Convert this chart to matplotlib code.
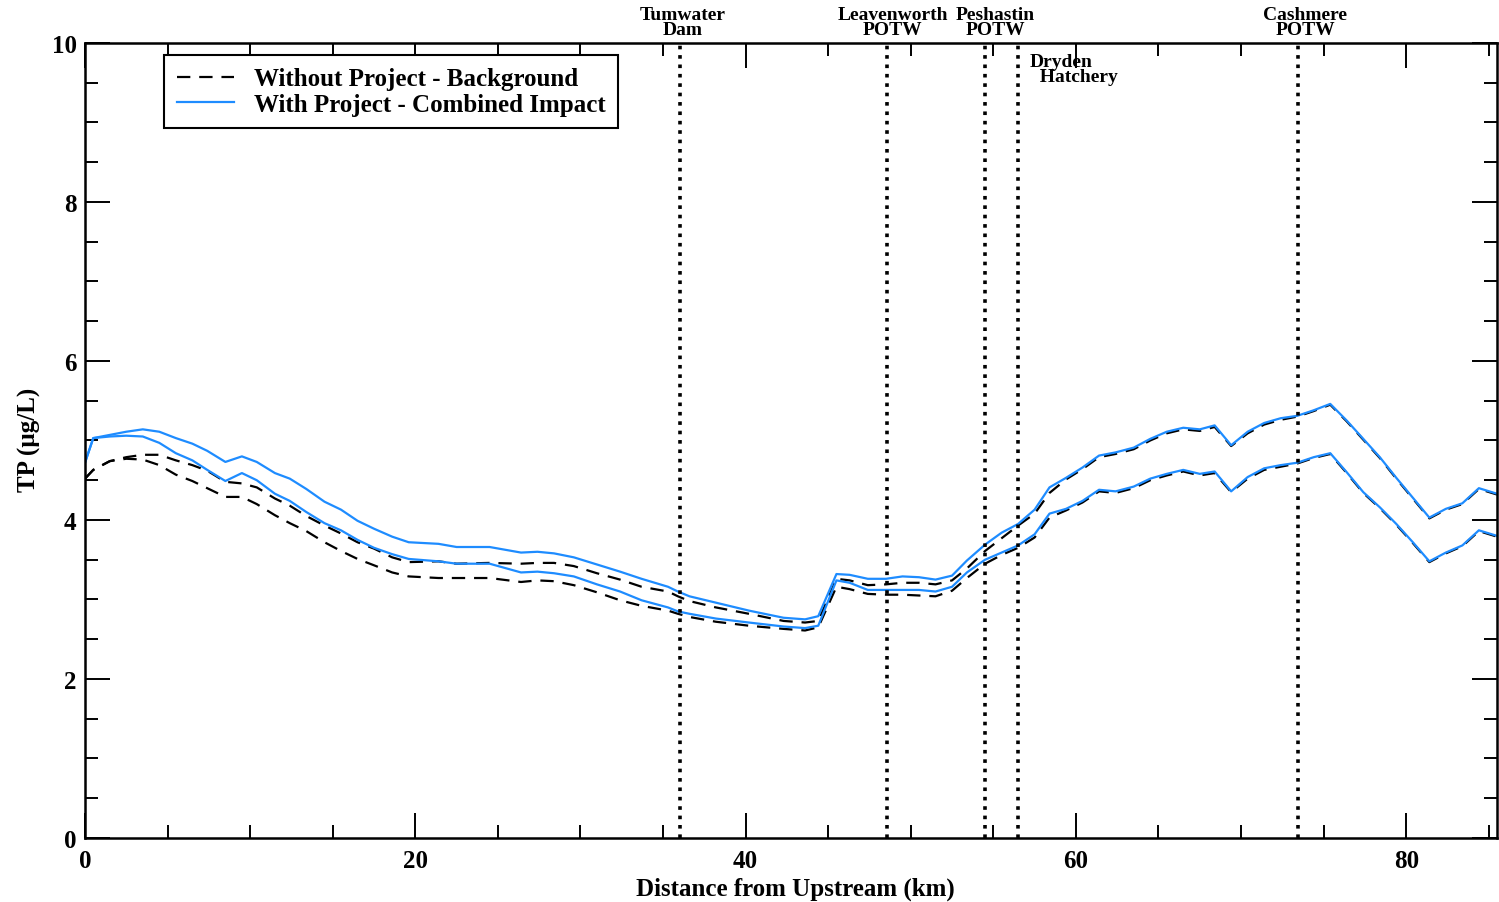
import matplotlib
matplotlib.use('Agg')
import matplotlib.pyplot as plt
from matplotlib.ticker import MultipleLocator
import matplotlib.transforms as mtransforms

plt.rcParams['font.family'] = ['Liberation Serif', 'DejaVu Serif']
plt.rcParams['font.weight'] = 'bold'

# distance from upstream (km)
dist_km = [0, 0.5, 1.5, 2.5, 3.5, 4.5, 5.5, 6.5, 7.4, 8.5, 9.5, 10.4, 11.5, 12.4, 13.4,
           14.5, 15.5, 16.5, 17.5, 18.6, 19.6, 21.4, 22.5, 24.5, 26.4, 27.4, 28.4, 29.6,
           31.0, 32.4, 33.7, 35.3, 35.9, 36.6, 38.2, 40.2, 42.3, 43.6, 44.4, 45.5, 46.3,
           47.4, 48.5, 49.5, 50.5, 51.5, 52.5, 53.4, 54.5, 55.5, 56.5, 57.5, 58.4, 59.4,
           60.4, 61.4, 62.4, 63.5, 64.5, 65.5, 66.5, 67.5, 68.4, 69.4, 70.4, 71.4, 72.4,
           73.4, 74.4, 75.4, 76.4, 77.4, 78.4, 79.4, 80.4, 81.4, 82.4, 83.4, 84.4, 85.5]

# With Project - Combined Impact (upper / lower envelope)
with_upper = [4.72, 5.03, 5.07, 5.11, 5.14, 5.11, 5.03, 4.96, 4.87, 4.73, 4.80, 4.73, 4.59, 4.52, 4.39,
              4.23, 4.13, 3.99, 3.89, 3.79, 3.72, 3.70, 3.66, 3.66, 3.59, 3.60, 3.58, 3.53,
              3.44, 3.35, 3.26, 3.16, 3.10, 3.04, 2.96, 2.86, 2.77, 2.75, 2.79, 3.32, 3.31,
              3.26, 3.26, 3.29, 3.28, 3.25, 3.30, 3.49, 3.69, 3.84, 3.95, 4.13, 4.41, 4.53,
              4.66, 4.81, 4.85, 4.91, 5.02, 5.11, 5.16, 5.14, 5.19, 4.94, 5.11, 5.22, 5.28,
              5.31, 5.38, 5.46, 5.25, 5.02, 4.79, 4.53, 4.28, 4.03, 4.14, 4.21, 4.40, 4.33]
with_lower = [4.72, 5.03, 5.05, 5.06, 5.05, 4.97, 4.84, 4.75, 4.63, 4.49, 4.59, 4.50, 4.33, 4.24, 4.10,
              3.96, 3.87, 3.75, 3.65, 3.57, 3.51, 3.48, 3.45, 3.45, 3.34, 3.35, 3.33, 3.29,
              3.19, 3.10, 2.99, 2.90, 2.85, 2.82, 2.76, 2.71, 2.66, 2.64, 2.67, 3.24, 3.21,
              3.12, 3.12, 3.12, 3.12, 3.10, 3.16, 3.34, 3.50, 3.59, 3.68, 3.82, 4.08, 4.14,
              4.24, 4.38, 4.36, 4.42, 4.52, 4.58, 4.63, 4.58, 4.61, 4.36, 4.54, 4.65, 4.69,
              4.72, 4.79, 4.84, 4.60, 4.35, 4.16, 3.95, 3.72, 3.48, 3.59, 3.68, 3.87, 3.80]

# Without Project - Background (upper / lower envelope)
without_upper = [4.52, 4.63, 4.74, 4.79, 4.82, 4.82, 4.75, 4.69, 4.62, 4.48, 4.46, 4.41, 4.27, 4.18, 4.05,
                 3.93, 3.83, 3.72, 3.64, 3.53, 3.47, 3.48, 3.45, 3.46, 3.45, 3.46, 3.46, 3.42,
                 3.33, 3.25, 3.16, 3.10, 3.04, 2.98, 2.90, 2.82, 2.73, 2.71, 2.73, 3.26, 3.24,
                 3.18, 3.19, 3.21, 3.21, 3.19, 3.24, 3.39, 3.61, 3.77, 3.93, 4.08, 4.34, 4.51,
                 4.64, 4.79, 4.83, 4.89, 5.00, 5.09, 5.14, 5.12, 5.17, 4.93, 5.09, 5.20, 5.26,
                 5.30, 5.37, 5.45, 5.24, 5.01, 4.78, 4.52, 4.27, 4.02, 4.13, 4.20, 4.39, 4.32]
without_lower = [4.52, 4.63, 4.74, 4.77, 4.76, 4.69, 4.57, 4.49, 4.40, 4.29, 4.29, 4.20, 4.06, 3.96, 3.86,
                 3.72, 3.61, 3.51, 3.43, 3.34, 3.29, 3.27, 3.27, 3.27, 3.22, 3.24, 3.23, 3.18,
                 3.09, 2.99, 2.92, 2.86, 2.82, 2.78, 2.72, 2.67, 2.63, 2.61, 2.65, 3.16, 3.13,
                 3.07, 3.06, 3.06, 3.05, 3.04, 3.11, 3.27, 3.45, 3.56, 3.65, 3.78, 4.03, 4.12,
                 4.22, 4.36, 4.34, 4.40, 4.50, 4.56, 4.61, 4.56, 4.59, 4.35, 4.52, 4.63, 4.67,
                 4.71, 4.78, 4.83, 4.59, 4.34, 4.15, 3.94, 3.71, 3.47, 3.58, 3.67, 3.86, 3.79]

# point sources / structures along the river
site_km = [36.0, 48.55, 54.5, 56.5, 73.45]

blue = '#1e8cff'

fig = plt.figure(figsize=(14.99, 9.03), dpi=100)
ax = fig.add_axes([0.0567, 0.0709, 0.942, 0.8804])

ax.plot(dist_km, without_upper, color='black', lw=1.6, linestyle=(0, (6, 4)),
        label='Without Project - Background')
ax.plot(dist_km, without_lower, color='black', lw=1.6, linestyle=(0, (6, 4)))
ax.plot(dist_km, with_upper, color=blue, lw=1.6, label='With Project - Combined Impact')
ax.plot(dist_km, with_lower, color=blue, lw=1.6)

# vertical dotted markers at the sites
for xs in site_km:
    ax.axvline(xs, color='black', lw=2.6, linestyle=(0, (1, 1.6)))

ax.set_xlim(0, 85.5)
ax.set_ylim(0, 10)
ax.xaxis.set_major_locator(MultipleLocator(20))
ax.xaxis.set_minor_locator(MultipleLocator(5))
ax.yaxis.set_major_locator(MultipleLocator(2))
ax.yaxis.set_minor_locator(MultipleLocator(0.5))
ax.tick_params(which='both', direction='in', top=True, right=True, width=1.4)
ax.tick_params(which='major', length=18, labelsize=18)
ax.tick_params(which='minor', length=9.5)
ax.tick_params(axis='x', pad=8)
ax.tick_params(axis='y', pad=6)
for sp in ax.spines.values():
    sp.set_linewidth(1.8)

ax.set_xlabel('Distance from Upstream (km)', fontsize=18, fontweight='bold')
ax.set_ylabel('TP (µg/L)', fontsize=18, fontweight='bold')
ax.xaxis.set_label_coords(0.503, -0.049)
ax.yaxis.set_label_coords(-0.031, 0.502)

# site labels above the plot
trans = mtransforms.blended_transform_factory(ax.transData, ax.transAxes)
ax.text(36.2, 1.006, 'Tumwater\nDam', transform=trans, ha='center', va='bottom',
        fontsize=14, fontweight='bold', linespacing=0.85)
ax.text(48.9, 1.006, 'Leavenworth\nPOTW', transform=trans, ha='center', va='bottom',
        fontsize=14, fontweight='bold', linespacing=0.85)
ax.text(55.1, 1.006, 'Peshastin\nPOTW', transform=trans, ha='center', va='bottom',
        fontsize=14, fontweight='bold', linespacing=0.85)
ax.text(73.9, 1.006, 'Cashmere\nPOTW', transform=trans, ha='center', va='bottom',
        fontsize=14, fontweight='bold', linespacing=0.85)
ax.text(57.2, 0.988, 'Dryden\n  Hatchery', transform=trans, ha='left', va='top',
        fontsize=14, fontweight='bold', linespacing=0.85)

leg = ax.legend(loc='upper left', bbox_to_anchor=(0.056, 0.985), fontsize=18,
                frameon=True, fancybox=False, edgecolor='black', framealpha=1,
                borderpad=0.5, handlelength=2.3, handletextpad=0.8, labelspacing=0.1,
                borderaxespad=0)
leg.get_frame().set_linewidth(1.5)
for t in leg.get_texts():
    t.set_fontweight('bold')

fig.savefig('out.png', dpi=100)
